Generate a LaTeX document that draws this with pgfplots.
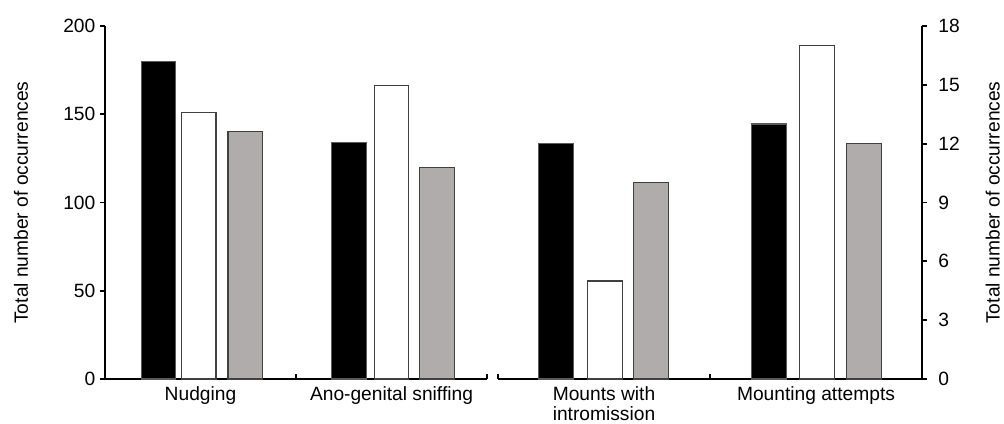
\documentclass[border=0pt]{standalone}
\usepackage{fontspec}
\setmainfont{Liberation Sans}
\usepackage{pgfplots}
\pgfplotsset{compat=1.18}
\definecolor{bargray}{RGB}{176,172,171}
\definecolor{edgec}{RGB}{64,64,64}
\definecolor{edgeb}{RGB}{90,90,90}
\pgfplotsset{
  common/.style={
    scale only axis,
    height=264.75pt,
    ymin=0, xmin=0, xmax=2,
    axis x line*=bottom,
    ybar, bar width=26pt,
    /pgf/number format/assume math mode=true,
    tick label style={font=\fontsize{14.4}{15.5}\selectfont},
    label style={font=\fontsize{14.4}{15.5}\selectfont},
    axis line style={line width=1.3pt, black},
    xtick={0.5,1.5},
    major x tick style={draw=none},
    minor x tick style={draw=black, line width=1.3pt},
    major y tick style={draw=black, line width=1.3pt},
    major tick length=3.75pt,
    minor tick length=4pt,
    xtick align=inside,
    ytick align=outside,
    xticklabel style={align=center, anchor=north, yshift=-2pt},
    clip=false,
  },
  blackbar/.style={fill=black, draw=edgeb, line width=0.9pt, bar shift=0pt},
  whitebar/.style={fill=white, draw=edgec, line width=0.9pt, bar shift=0pt},
  graybar/.style={fill=bargray, draw=edgec, line width=0.9pt, bar shift=0pt},
}
\begin{document}
\begin{tikzpicture}
\useasboundingbox (0,0) rectangle (753pt,318pt);
% left axis: Nudging, Ano-genital sniffing (0-200)
\begin{axis}[common,
  at={(78.75pt,33.75pt)}, anchor=south west,
  width=286.5pt,
  ymax=200,
  axis y line*=left,
  ytick={0,50,100,150,200},
  xticklabels={Nudging, Ano-genital sniffing},
  minor xtick={1,2},
  ylabel={Total number of occurrences},
  ylabel style={at={(axis description cs:-0.22,0.5)}, anchor=center, inner sep=0pt},
]
\addplot[blackbar] coordinates {(0.28,180) (1.277,134)};
\addplot[whitebar] coordinates {(0.49,151) (1.5,166.5)};
\addplot[graybar] coordinates {(0.735,140) (1.738,120)};
\end{axis}
% right axis: Mounts with intromission, Mounting attempts (0-18)
\begin{axis}[common,
  at={(373.5pt,33.75pt)}, anchor=south west,
  width=318pt,
  ymax=18,
  axis y line*=right,
  ytick={0,3,6,9,12,15,18},
  yticklabel style={xshift=5pt},
  xticklabels={Mounts with\\intromission, Mounting attempts},
  minor xtick={0,1},
  ylabel={Total number of occurrences},
  ylabel style={at={(axis description cs:1.167,0.5)}, anchor=center, inner sep=0pt},
]
\addplot[blackbar] coordinates {(0.274,12) (1.278,13)};
\addplot[whitebar] coordinates {(0.505,5) (1.505,17)};
\addplot[graybar] coordinates {(0.722,10) (1.726,12)};
\end{axis}
\end{tikzpicture}
\end{document}
